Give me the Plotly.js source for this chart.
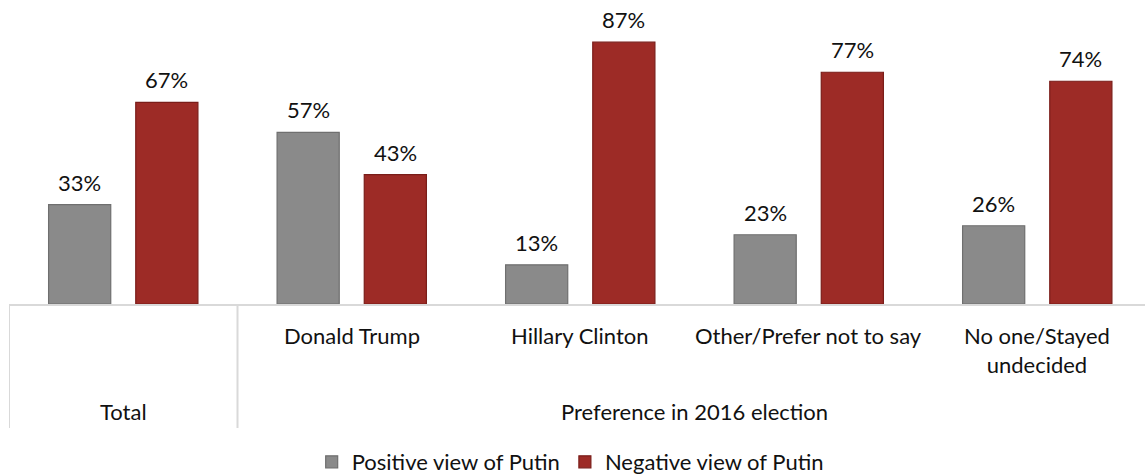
<!DOCTYPE html>
<html>
<head>
<meta charset="utf-8">
<script src="https://cdn.plot.ly/plotly-3.0.1.min.js"></script>
<style>html,body{margin:0;padding:0;background:#fff;}#chart{width:1145px;height:474px;}</style>
</head>
<body>
<div id="chart"></div>
<script>
// ---- data ----
const categories = ['Total', 'Donald Trump', 'Hillary Clinton', 'Other/Prefer not to say', 'No one/Stayed undecided'];
const tickLabels = ['', 'Donald Trump', 'Hillary Clinton', 'Other/Prefer not to say', 'No one/Stayed<br>undecided'];
const groupLabels = ['Total', 'Preference in 2016 election'];
const groupSpans = [[0, 0], [1, 4]];
const seriesNames = ['Positive view of Putin', 'Negative view of Putin'];
const positive = [33, 57, 13, 23, 26];
const negative = [67, 43, 87, 77, 74];

// ---- layout constants ----
const W = 1145, H = 474;
const mL = 9, mT = 0, mB = 170;
const plotH = H - mT - mB;            // 304 px
const pxPerCat = 228.5;
const xIdx = categories.map((c, i) => i);
const xMax = -0.5 + (W - mL) / pxPerCat;
const FONT = 'Lato, "Noto Sans", sans-serif';
const FS = 22;
const barOffsetPx = 43.5;
const paperY = (py) => (plotH + mT - py) / plotH;

const traces = [
  {
    type: 'bar', name: seriesNames[0], x: xIdx, y: positive,
    marker: {color: '#8a8a8a', line: {color: '#6f6f6f', width: 1.2}},
    hoverinfo: 'skip'
  },
  {
    type: 'bar', name: seriesNames[1], x: xIdx, y: negative,
    marker: {color: '#9d2b26', line: {color: '#7a1d19', width: 1.2}},
    hoverinfo: 'skip'
  }
];

const annotations = [];
// value labels
[positive, negative].forEach((vals, s) => {
  vals.forEach((v, i) => {
    annotations.push({
      x: xIdx[i], y: v, xref: 'x', yref: 'y',
      xshift: (s === 0 ? -1 : 1) * barOffsetPx, yshift: 7,
      text: v + '%', showarrow: false, yanchor: 'bottom', xanchor: 'center',
      font: {family: FONT, size: FS, color: '#111'}
    });
  });
});
// inner category labels
tickLabels.forEach((t, i) => {
  if (!t) return;
  annotations.push({
    x: xIdx[i], y: paperY(320), xref: 'x', yref: 'paper',
    text: t, showarrow: false, yanchor: 'top', xanchor: 'center',
    font: {family: FONT, size: FS, color: '#111'}
  });
});
// group labels
groupLabels.forEach((g, k) => {
  annotations.push({
    x: (groupSpans[k][0] + groupSpans[k][1]) / 2, y: paperY(411), xref: 'x', yref: 'paper',
    text: g, showarrow: false, yanchor: 'middle', xanchor: 'center',
    font: {family: FONT, size: FS, color: '#111'}
  });
});

// divider lines in the category axis
const shapes = groupSpans.map(sp => ({
  type: 'line', xref: 'x', yref: 'paper',
  x0: sp[0] - 0.5, x1: sp[0] - 0.5, y0: 0, y1: paperY(428),
  line: {color: '#d9d9d9', width: 2}
}));

const layout = {
  width: W, height: H,
  margin: {l: mL, r: 0, t: mT, b: mB, pad: 0, autoexpand: false},
  paper_bgcolor: '#ffffff', plot_bgcolor: '#ffffff',
  barmode: 'group', bargap: 0.237, bargroupgap: 0.287,
  showlegend: true,
  legend: {
    orientation: 'h', x: 0.494, xanchor: 'center', y: paperY(462), yanchor: 'middle',
    font: {family: FONT, size: FS, color: '#111'}, itemwidth: 30, traceorder: 'normal'
  },
  xaxis: {
    range: [-0.5, xMax], showgrid: false, zeroline: false, showticklabels: false,
    showline: true, linecolor: '#d9d9d9', linewidth: 2, ticks: '', fixedrange: true
  },
  yaxis: {
    range: [0, 101], showgrid: false, zeroline: false, showticklabels: false,
    showline: false, ticks: '', fixedrange: true
  },
  annotations: annotations,
  shapes: shapes,
  font: {family: FONT, size: FS, color: '#111'}
};

Plotly.newPlot('chart', traces, layout, {displayModeBar: false, staticPlot: true});
</script>
</body>
</html>
